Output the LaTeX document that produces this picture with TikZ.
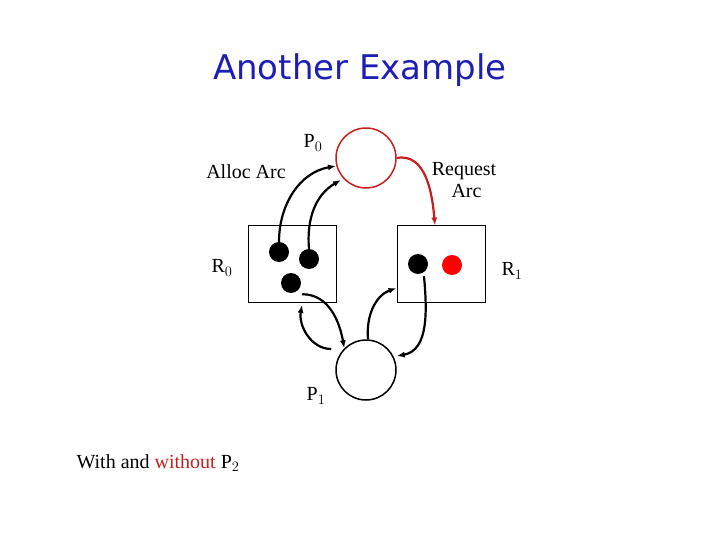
\documentclass[tikz,border=0pt]{standalone}
\usepackage{fontspec}
\setmainfont{Liberation Serif}
\newfontfamily\titlefont{DejaVu Sans}
\usetikzlibrary{arrows.meta}
\definecolor{titleblue}{RGB}{30,30,180}
\definecolor{arcred}{RGB}{200,30,30}
\tikzset{
  proc/.style={circle,draw,line width=1.5pt,minimum size=60pt,inner sep=0pt},
  res/.style={draw,line width=1pt,minimum width=88pt,minimum height=76pt,inner sep=0pt},
  dot/.style={circle,fill,inner sep=0pt,minimum size=20pt},
  arc/.style={line width=2.2pt,-{Latex[length=8pt,width=6pt]}},
  lbl/.style={font=\fontsize{20}{22}\selectfont}
}
\begin{document}
\begin{tikzpicture}[x=1pt,y=-1pt]
  \useasboundingbox (0,0) rectangle (720,540);
  \node[font=\titlefont\fontsize{34}{36}\selectfont,text=titleblue] (title) at (360,70) {Another Example};
  % processes and resources
  \node[proc,draw=arcred] (P0) at (366,158) {};
  \node[proc] (P1) at (366,370) {};
  \node[res] (R0) at (292,264) {};
  \node[res] (R1) at (441,264) {};
  \node[dot] (d1) at (279,252) {};
  \node[dot] (d2) at (309,259) {};
  \node[dot] (d3) at (291,283) {};
  \node[dot] (d4) at (418,264) {};
  \node[dot,fill=red] (d5) at (452,265) {};
  % labels
  \node[lbl] (lP0) at (313,143) {P$_0$};
  \node[lbl] (lP1) at (316,396) {P$_1$};
  \node[lbl] (lR0) at (222,268) {R$_0$};
  \node[lbl] (lR1) at (512,271) {R$_1$};
  \node[lbl] (alloc) at (246,172) {Alloc Arc};
  \node[lbl,align=center] (req) at (464,180) {Request\\ \ Arc};
  \node[lbl] (note) at (158,463) {With and \textcolor{arcred}{without} P$_2$};
  % arcs
  \coordinate (a1) at (336,166);
  \coordinate (a2) at (341,180);
  \draw[arc] (d1.north) to[out=90,in=190] (a1);
  \draw[arc] (d2.north) to[out=95,in=210] (a2);
  \draw[arc,arcred] (P0.east) to[out=10,in=95] (R1.north -| 435,0);
  \draw[arc] (d3.south east) ++(4,4) to[out=0,in=100] (P1.north west);
  \draw[arc] (P1.west |- 0,349) ++(-4,0) to[out=180,in=260] (302,305);
  \draw[arc] (P1.north) ++(2,0) to[out=95,in=200] (R1.west |- 0,288);
  \draw[arc] (d4.south) ++(6,2) to[out=275,in=10] (P1.east |- 0,356);
\end{tikzpicture}
\end{document}
